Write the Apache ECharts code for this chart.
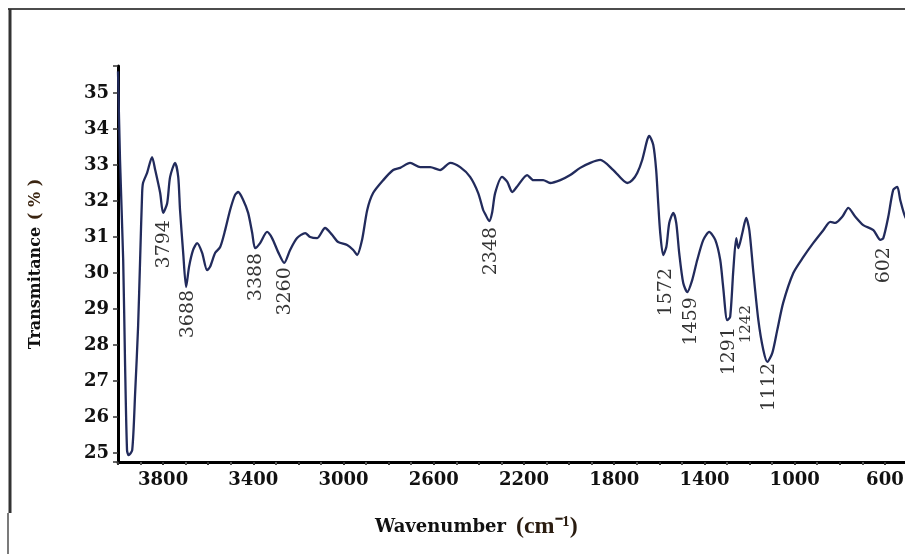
<!DOCTYPE html>
<html>
<head>
<meta charset="utf-8">
<script src="https://cdn.jsdelivr.net/npm/echarts@6/dist/echarts.min.js"></script>
<style>
html,body{margin:0;padding:0;background:#fff;}
#chart{width:905px;height:554px;}
</style>
</head>
<body>
<div id="chart"></div>
<script>
// FTIR spectrum: wavenumber (cm-1) vs transmittance (%)
const wavenumber = [4000,3991,3977,3969,3960,3953,3937,3924,3911,3902,3893,3889,3871,3849,3835,3813,3800,3782,3769,3747,3733,3725,3711,3698,3685,3667,3649,3627,3605,3592,3569,3547,3525,3503,3481,3467,3445,3423,3405,3392,3370,3339,3317,3290,3263,3237,3206,3170,3148,3117,3082,3051,3024,2984,2957,2940,2918,2895,2869,2824,2780,2749,2705,2660,2616,2572,2527,2483,2439,2403,2381,2372,2354,2341,2328,2297,2274,2252,2226,2186,2159,2115,2084,2039,1995,1951,1906,1862,1804,1742,1720,1698,1676,1654,1645,1627,1614,1605,1596,1583,1569,1556,1538,1525,1512,1494,1476,1454,1432,1405,1379,1352,1330,1317,1299,1286,1272,1259,1250,1232,1215,1201,1184,1161,1139,1121,1099,1077,1051,1006,962,918,873,842,820,789,762,731,696,651,620,607,585,563,545,532,510,480];
const transmittance = [35.6,33.14,30.36,27.58,25.08,24.94,25.08,26.67,28.5,30.36,32.22,32.5,32.78,33.22,32.86,32.22,31.67,31.94,32.67,33.06,32.67,31.75,30.56,29.61,30.17,30.64,30.83,30.56,30.08,30.17,30.56,30.72,31.19,31.75,32.17,32.25,32.03,31.67,31.11,30.69,30.83,31.14,30.97,30.58,30.28,30.64,30.97,31.11,31.0,30.97,31.25,31.06,30.86,30.78,30.64,30.5,30.92,31.75,32.22,32.58,32.86,32.92,33.06,32.94,32.94,32.86,33.06,32.94,32.67,32.22,31.75,31.64,31.44,31.69,32.22,32.67,32.53,32.25,32.44,32.72,32.58,32.58,32.5,32.58,32.72,32.92,33.06,33.14,32.86,32.5,32.58,32.78,33.14,33.69,33.81,33.56,32.86,31.94,31.11,30.5,30.72,31.39,31.67,31.39,30.56,29.72,29.47,29.81,30.36,30.92,31.14,30.92,30.36,29.61,28.69,28.78,30.08,30.97,30.69,31.11,31.53,31.19,30.08,28.69,27.86,27.53,27.78,28.42,29.17,30.0,30.44,30.83,31.19,31.42,31.39,31.56,31.81,31.56,31.33,31.19,30.92,30.97,31.56,32.31,32.39,32.03,31.56,31.3];

// Peak annotations (text, wavenumber where label sits, transmittance at label's top end)
const peakText = ['3794','3688','3388','3260','2348','1572','1459','1291','1242','1112','602'];
const peakLabelWn = [3794,3688,3388,3260,2348,1572,1459,1291,1217,1112,602];
const peakLabelTop = [31.47,29.53,30.56,30.16,31.28,30.14,29.33,28.5,29.11,27.5,30.72];

// Axis tick labels
const xTickLabels = [3800,3400,3000,2600,2200,1800,1400,1000,600];
const yTickLabels = [25,26,27,28,29,30,31,32,33,34,35];

const chart = echarts.init(document.getElementById('chart'), null, {renderer:'canvas'});
const lineData = wavenumber.map((w,i)=>[w, transmittance[i]]);
const peakData = peakText.map((t,i)=>({
  value:[peakLabelWn[i], peakLabelTop[i]],
  name:t,
  label:{fontSize: t === '1242' ? 15 : 19}
}));

const serif = 'DejaVu Serif';
chart.setOption({
  backgroundColor:'#ffffff',
  animation:false,
  grid:{left:118, right:-25, top:66, bottom:92, containLabel:false, outerBoundsMode:'none'},
  title:{
    text:'{b|Wavenumber}  {n|(cm⁻¹)}',
    left:370, top:510,
    textStyle:{
      rich:{
        b:{fontFamily:serif, fontWeight:'bold', fontSize:18, color:'#111'},
        n:{fontFamily:'Liberation Serif', fontSize:24, color:'#2a1c10'}
      }
    }
  },
  xAxis:{
    type:'value', inverse:true, min:400, max:4000, interval:200,
    axisLine:{show:true, lineStyle:{color:'#000', width:3}},
    axisTick:{show:true, length:3, lineStyle:{color:'#333', width:2}},
    minorTick:{show:true, splitNumber:2, length:3, lineStyle:{color:'#555', width:2}},
    splitLine:{show:false}, minorSplitLine:{show:false},
    axisLabel:{
      margin:9, fontFamily:serif, fontWeight:'bold', fontSize:18, color:'#111',
      hideOverlap:false,
      formatter:(v)=> xTickLabels.includes(v) ? String(v) : ''
    }
  },
  yAxis:{
    type:'value', min:24.75, max:35.75, splitNumber:11,
    name:'{b|Transmitance}  {n|( % )}',
    nameLocation:'middle', nameRotate:90, nameGap:74,
    nameTextStyle:{
      rich:{
        b:{fontFamily:serif, fontWeight:'bold', fontSize:16, color:'#111'},
        n:{fontFamily:serif, fontWeight:'bold', fontSize:16, color:'#3a2410'}
      }
    },
    axisLine:{show:true, lineStyle:{color:'#000', width:3}},
    axisTick:{show:true, length:5, lineStyle:{color:'#333', width:1.5}},
    splitLine:{show:false},
    axisLabel:{
      margin:9, fontFamily:serif, fontWeight:'bold', fontSize:18, color:'#111',
      formatter:(v)=> yTickLabels.includes(v) ? String(v) : ''
    }
  },
  graphic:[
    {type:'line', shape:{x1:8, y1:9, x2:905, y2:9}, style:{stroke:'#111', lineWidth:1.5}},
    {type:'line', shape:{x1:10, y1:9, x2:10, y2:513}, style:{stroke:'#333', lineWidth:3}},
    {type:'line', shape:{x1:8, y1:513, x2:8, y2:554}, style:{stroke:'#222', lineWidth:1.2}}
  ],
  series:[
    {
      type:'line', data:lineData, showSymbol:false, smooth:0.25,
      lineStyle:{color:'#222b5c', width:2.3}, clip:true, z:3
    },
    {
      type:'scatter', data:peakData, symbolSize:0, z:4,
      label:{
        show:true, position:'inside', rotate:90, align:'right', verticalAlign:'middle',
        formatter:(p)=>p.name, fontFamily:serif, fontSize:19, color:'#000'
      }
    }
  ]
});
</script>
</body>
</html>
